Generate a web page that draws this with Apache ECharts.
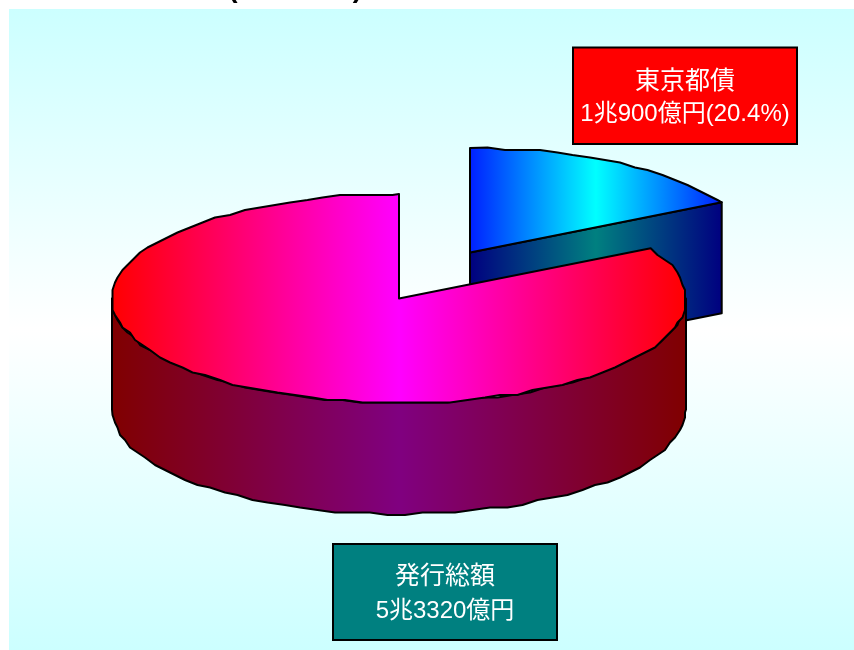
<!DOCTYPE html>
<html lang="ja">
<head>
<meta charset="utf-8">
<style>html,body{margin:0;padding:0;background:#fff}#chart{width:854px;height:650px}</style>
<script src="https://cdn.jsdelivr.net/npm/echarts@6/dist/echarts.min.js"></script>
</head>
<body>
<div id="chart"></div>
<script>
// Bond issuance, in 億円
const sliceNames = ['東京都債', 'その他'];
const sliceValues = [10900, 42420];
const chartTitle = '2002年(平成14年)度における地方債発行状況';
const noteLines = [
  ['東京都債', '1兆900億円(20.4%)'],
  ['発行総額', '5兆3320億円']
];

// Pie projection
const pie = { cx: 399, cy: 298.5, rx: 287, ry: 104.5, depth: 111, foreshorten: 0.792, jag: 2.5, step: 3.5 };
const burst = { dx: 71, dy: -46 };
const rad = Math.PI / 180;
const total = sliceValues.reduce((a, b) => a + b, 0);

// Screen sweep of a share: the tilted view compresses angles near the back of the disc
function sweep(share) {
  const half = share * Math.PI;
  return 2 * Math.atan(pie.foreshorten * Math.tan(half)) / rad;
}
function rimPoint(deg, ox, oy, exact) {
  const x = ox + pie.rx * Math.sin(deg * rad);
  const y = oy - pie.ry * Math.cos(deg * rad);
  if (exact) return [x, y];
  return [Math.round(x / pie.jag) * pie.jag, Math.round(y / pie.jag) * pie.jag];
}
function rim(from, to, ox, oy) {
  const pts = [rimPoint(from, ox, oy, true)];
  const dir = to > from ? 1 : -1;
  for (let d = from + dir * pie.step; dir * (to - d) > 0.5; d += dir * pie.step) pts.push(rimPoint(d, ox, oy));
  pts.push(rimPoint(to, ox, oy, true));
  return pts;
}
function band(x0, x1, edge, mid) {
  return {
    type: 'linear', global: true, x: x0, y: 0, x2: x1, y2: 0,
    colorStops: [{ offset: 0, color: edge }, { offset: 0.5, color: mid }, { offset: 1, color: edge }]
  };
}
const ink = { stroke: '#000', lineWidth: 2, lineJoin: 'round' };

function renderSlice(params, api) {
  const edge = sweep(sliceValues[0] / total);
  const g = { type: 'group', children: [] };
  if (params.dataIndex === 0) {
    // Pulled-out slice: front cut face, then top
    const sweepAngle = sweep(api.value(0) / total);
    const ox = pie.cx + burst.dx, oy = pie.cy + burst.dy;
    const tip = rimPoint(sweepAngle, ox, oy, true);
    const x0 = ox, x1 = tip[0];
    g.children.push({
      type: 'polygon',
      shape: { points: [[ox, oy], tip, [tip[0], tip[1] + pie.depth], [ox, oy + pie.depth]] },
      style: Object.assign({ fill: band(x0, x1, '#000080', '#008080') }, ink)
    });
    g.children.push({
      type: 'polygon',
      shape: { points: [[ox, oy]].concat(rim(0, sweepAngle, ox, oy)) },
      style: Object.assign({ fill: band(x0, x1, '#0020ff', '#00ffff') }, ink)
    });
  } else {
    // Remaining disc: outer wall, then top
    const x0 = pie.cx - pie.rx, x1 = pie.cx + pie.rx;
    const upper = rim(90, 270, pie.cx, pie.cy);
    const lower = rim(270, 90, pie.cx, pie.cy + pie.depth);
    g.children.push({
      type: 'polygon',
      shape: { points: upper.concat(lower) },
      style: Object.assign({ fill: band(x0, x1, '#800000', '#800080') }, ink)
    });
    g.children.push({
      type: 'polygon',
      shape: { points: [[pie.cx, pie.cy]].concat(rim(edge, 360, pie.cx, pie.cy)) },
      style: Object.assign({ fill: band(x0, x1, '#ff0000', '#ff00ff') }, ink)
    });
  }
  return g;
}

// Caption boxes
const boxes = [
  { x: 573, y: 47.5, w: 224, h: 96.5, fill: '#ff0000', y1: 82, y2: 114 },
  { x: 333, y: 544, w: 224, h: 96, fill: '#008080', y1: 577, y2: 611 }
];
const textFont = '"Liberation Sans", "Noto Sans CJK JP", sans-serif';
function renderBox(params) {
  const b = boxes[params.dataIndex];
  const lines = noteLines[params.dataIndex];
  const cx = b.x + b.w / 2;
  return {
    type: 'group',
    children: [
      { type: 'rect', shape: { x: b.x, y: b.y, width: b.w, height: b.h }, style: { fill: b.fill, stroke: '#000', lineWidth: 2 } },
      { type: 'text', style: { x: cx, y: b.y1, text: lines[0], fill: '#fff', font: '25px ' + textFont, align: 'center', verticalAlign: 'middle' } },
      { type: 'text', style: { x: cx, y: b.y2, text: lines[1], fill: '#fff', font: '24px ' + textFont, align: 'center', verticalAlign: 'middle' } }
    ]
  };
}

const chart = echarts.init(document.getElementById('chart'), null, { renderer: 'canvas' });
chart.setOption({
  animation: false,
  backgroundColor: '#fff',
  graphic: [
    {
      type: 'rect', z: -1, silent: true,
      shape: { x: 9, y: 9, width: 845, height: 641 },
      style: {
        fill: {
          type: 'linear', x: 0, y: 0, x2: 0, y2: 1,
          colorStops: [{ offset: 0, color: '#ccffff' }, { offset: 0.5, color: '#ffffff' }, { offset: 1, color: '#ccffff' }]
        }
      }
    },
    {
      type: 'text', z: 5, silent: true,
      style: { x: 418, y: 3, text: chartTitle, fill: '#000', font: 'bold 28px ' + textFont, align: 'center', verticalAlign: 'bottom' }
    }
  ],
  series: [
    {
      type: 'custom', coordinateSystem: 'none', silent: true, z: 2,
      data: sliceNames.map((name, i) => ({ name, value: [sliceValues[i]] })),
      renderItem: renderSlice
    },
    {
      type: 'custom', coordinateSystem: 'none', silent: true, z: 3,
      data: noteLines.map((l) => ({ name: l[0], value: [0] })),
      renderItem: renderBox
    }
  ]
});
</script>
</body>
</html>
